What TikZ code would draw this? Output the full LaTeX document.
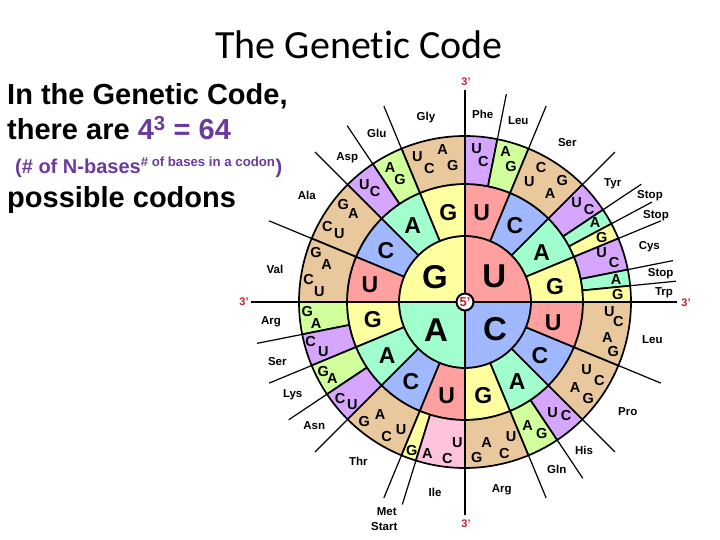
\documentclass[tikz,border=0pt]{standalone}
\usepackage{fontspec}
\setmainfont{Liberation Sans}
\newfontfamily\titlefont[Ligatures=NoCommon]{Carlito}
\definecolor{ylw}{HTML}{FFFFA0}
\definecolor{rdd}{HTML}{FFA0A0}
\definecolor{grn}{HTML}{A0FFCC}
\definecolor{blu}{HTML}{A0B8FF}
\definecolor{tan}{HTML}{E8C89C}
\definecolor{pur}{HTML}{D6A6FF}
\definecolor{lim}{HTML}{D0FF9C}
\definecolor{pnk}{HTML}{FFC4DC}
\definecolor{txtpur}{HTML}{6A3A9C}
\definecolor{mark}{HTML}{C02030}
\begin{document}
\begin{tikzpicture}[x=1pt,y=1pt,
  sect/.style={draw=black,line width=1.7pt,line join=round},
  spoke/.style={draw=black,line width=1.2pt},
  base/.style={inner sep=0pt,text depth=0pt,font=\fontsize{14.5}{14.5}\selectfont\bfseries},
  mid/.style={inner sep=0pt,text depth=0pt,font=\fontsize{23}{23}\selectfont\bfseries},
  big/.style={inner sep=0pt,text depth=0pt,font=\fontsize{33}{33}\selectfont\bfseries},
  acid/.style={inner sep=0pt,text depth=0pt,font=\fontsize{11.5}{11.5}\selectfont\bfseries},
  prime/.style={inner sep=0pt,text depth=0pt,text=mark,font=\fontsize{11}{11}\selectfont\bfseries},
  line/.style={anchor=base west,inner sep=0pt,font=\fontsize{29}{29}\selectfont\bfseries}]
\useasboundingbox (-465,-238) rectangle (255,302);

% centre
\filldraw[sect,fill=rdd] (0,0) -- (90:66) arc[start angle=90,end angle=0,radius=66] -- cycle;
\filldraw[sect,fill=ylw] (0,0) -- (90:66) arc[start angle=90,end angle=180,radius=66] -- cycle;
\filldraw[sect,fill=grn] (0,0) -- (180:66) arc[start angle=180,end angle=270,radius=66] -- cycle;
\filldraw[sect,fill=blu] (0,0) -- (270:66) arc[start angle=270,end angle=360,radius=66] -- cycle;

% rings
\foreach \c/\a/\b/\r/\s in {
  rdd/67.5/90/66/118, blu/45/67.5/66/118, grn/22.5/45/66/118, ylw/0/22.5/66/118,
  ylw/90/112.5/66/118, grn/112.5/135/66/118, blu/135/157.5/66/118, rdd/157.5/180/66/118,
  ylw/180/202.5/66/118, grn/202.5/225/66/118, blu/225/247.5/66/118, rdd/247.5/270/66/118,
  ylw/270/292.5/66/118, grn/292.5/315/66/118, blu/315/337.5/66/118, rdd/337.5/360/66/118,
  pur/78.75/90/118/166, lim/67.5/78.75/118/166, tan/45/67.5/118/166,
  pur/33.75/45/118/166, grn/28.125/33.75/118/166, ylw/22.5/28.125/118/166,
  pur/11.25/22.5/118/166, grn/5.625/11.25/118/166, ylw/0/5.625/118/166,
  tan/90/112.5/118/166, lim/112.5/123.75/118/166, pur/123.75/135/118/166,
  tan/135/157.5/118/166, tan/157.5/180/118/166,
  lim/180/191.25/118/166, pur/191.25/202.5/118/166, lim/202.5/213.75/118/166,
  pur/213.75/225/118/166, tan/225/247.5/118/166, ylw/247.5/252.8/118/166,
  pnk/252.8/270/118/166,
  tan/270/292.5/118/166, lim/292.5/303.75/118/166, pur/303.75/315/118/166,
  tan/315/337.5/118/166, tan/337.5/360/118/166}
  \filldraw[sect,fill=\c] (\a:\r) arc[start angle=\a,end angle=\b,radius=\r] -- (\b:\s) arc[start angle=\b,end angle=\a,radius=\s] -- cycle;

% axes
\coordinate (N) at (0,212);
\coordinate (S) at (0,-213);
\coordinate (W) at (-214,0);
\coordinate (E) at (212,0);
\draw[sect] (N) -- (S);
\draw[sect] (W) -- (E);

% spokes
\foreach \a [count=\i] in {78.75,67.5,45,33.75,28.125,22.5,11.25,5.625,
  112.5,123.75,135,157.5,191.25,202.5,213.75,225,247.5,252.8,292.5,303.75,315,337.5} {
  \coordinate (in\i) at (\a:166);
  \coordinate (out\i) at (\a:212);
  \draw[spoke] (in\i) -- (out\i);
}

% letters
\foreach \t/\x/\y [count=\i] in {
  U/-47.7/145.3, C/-35.7/133.7, A/-22.3/152, G/-12.3/137,
  A/-75/134.7, G/-65/122.7, U/-100.7/117.7, C/-90/110.3,
  G/-121.7/97.7, A/-111.7/88.7, C/-137.7/75.3, U/-125.7/68.7,
  G/-149/49.7, A/-138.3/37, C/-156.3/23, U/-145.7/10.3,
  U/11.7/153, C/18.3/140.3, A/40.7/150.3, G/46/136,
  U/64.3/120.3, C/76/134.3, A/85/108, G/97.3/122,
  U/111.7/99.7, C/124/92.7, A/130/79.3, G/136.7/64.3,
  U/136.7/49.7, C/149/39.7, A/151/22, G/152.7/8,
  G/-157.7/-9, A/-149/-22, C/-154.3/-39, U/-141.7/-49.7,
  G/-141.7/-69, A/-132.7/-76.3, C/-125/-96.3, U/-112.7/-102.3,
  G/-100.7/-119, A/-85/-112.3, C/-78.3/-134.7, U/-64/-127.3,
  G/-53.3/-148, A/-37.7/-152, C/-17.7/-156.3, U/-7.7/-140.7,
  U/144.3/-9.7, C/153.3/-19.7, A/142.3/-35.3, G/148.3/-49.7,
  U/121.7/-67.3, C/134.3/-78, A/110/-85.7, G/123.3/-96.3,
  U/87.7/-110.7, C/101/-113.7, A/62.7/-124, G/76.7/-131.3,
  U/46/-134.7, C/39.3/-151.3, A/21.7/-140.7, G/11.7/-155.3}
  \node[base] (b\i) at (\x,\y) {\t};

\foreach \t/\x/\y [count=\i] in {
  G/-16.7/89.3, A/-52.3/76.3, C/-79/52, U/-95/17,
  U/16.7/89.3, C/50/76.3, A/76.7/49.7, G/90/16,
  G/-92.3/-17.3, A/-77.7/-54, C/-54/-79, U/-18.3/-94,
  U/88.3/-20.7, C/75/-53, A/52.3/-79.7, G/18.3/-93.7}
  \node[mid] (m\i) at (\x,\y) {\t};

\node[big] (first1) at (-30,25.3) {G};
\node[big] (first2) at (29.3,26.3) {U};
\node[big] (first3) at (-29,-28) {A};
\node[big] (first4) at (30,-27.3) {C};

% amino acids
\foreach \t/\x/\y [count=\i] in {
  Gly/-39/185.3, Glu/-88.3/168.7, Asp/-117.7/145.3, Ala/-158.3/107, Val/-190/32.7,
  Phe/17.7/187.7, Leu/53.3/181, Ser/102.3/159.7, Tyr/147.7/119.3, Stop/185/108,
  Stop/191/88, Cys/184.3/56.3, Stop/195.7/29.3, Trp/199/10,
  Arg/-194/-18.7, Ser/-187.7/-59, Lys/-172.3/-92, Asn/-150.7/-124, Thr/-106.7/-159.7,
  Ile/-30/-190.7, Met/-78.3/-209.7, Start/-80.7/-224,
  Leu/187.3/-38, Pro/162.7/-109.7, His/119/-148, Gln/91.7/-167, Arg/36.7/-187}
  \node[acid] (aa\i) at (\x,\y) {\t};

% ends
\node[prime] (top) at (1,220) {3'};
\node[prime] (left) at (-221,0) {3'};
\node[prime] (right) at (221,-1) {3'};
\node[prime] (bottom) at (1,-222) {3'};
\node[circle,draw=black,fill=white,line width=2pt,minimum size=17pt,prime,inner sep=0pt,font=\fontsize{13}{13}\selectfont\bfseries] (five) at (0,0) {5'};

% text
\node[anchor=base,inner sep=0pt,font=\titlefont\fontsize{40}{40}\selectfont] (title) at (-106,243) {The Genetic Code};
\node[line] (line1) at (-458,197.5) {In the Genetic Code,};
\node[line] (line2) at (-458,162) {there are {\color{txtpur}4\textsuperscript{3} = 64}};
\node[line,text=txtpur,font=\fontsize{20}{20}\selectfont\bfseries] (line3) at (-450,128) {(\# of N-bases\textsuperscript{\fontsize{13.2}{13.2}\selectfont\#\ of bases in a codon})};
\node[line] (line4) at (-458,94) {possible codons};
\end{tikzpicture}
\end{document}
